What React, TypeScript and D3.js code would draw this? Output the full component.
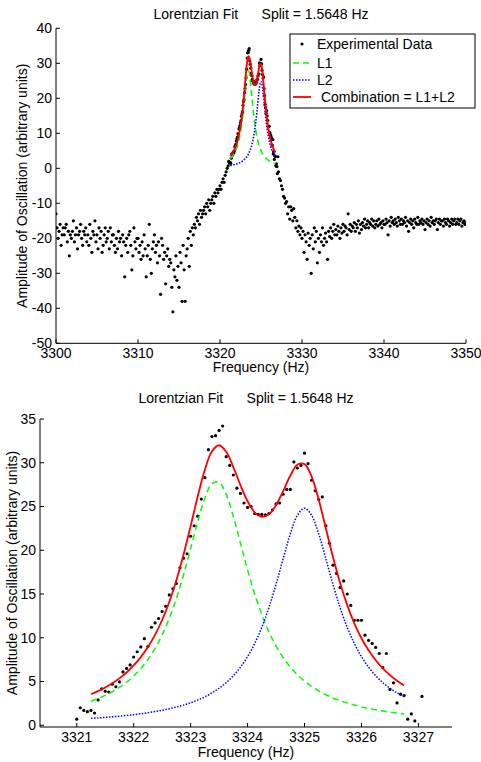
import React from "react";
import * as d3 from "d3";

const centerStart = 3321;
const centerStep = 0.0625;
const centerAmp = [
  0.7, 2.0, 1.7, 1.55, 1.7, 1.4, 2.9, 4.15, 3.9, 3.8, 4.7, 4.4, 4.95, 6.1, 6.5, 6.9,
  7.8, 8.4, 8.95, 9.9, 9.0, 11.2, 11.7, 12.2, 13.0, 13.6, 14.9, 15.6, 16.2, 18.0, 19.1, 19.6,
  21.6, 22.8, 23.9, 25.85, 28.3, 31.5, 33.0, 33.1, 33.7, 34.2, 30.7, 29.7, 28.6, 27.1, 26.5, 25.4,
  24.9, 25.0, 24.2, 24.1, 24.1, 24.05, 24.2, 24.6, 25.3, 25.4, 26.4, 26.95, 26.95, 30.1, 29.4, 29.7,
  31.1, 29.9, 28.0, 26.8, 25.8, 26.1, 22.8, 20.8, 18.3, 17.35, 15.75, 16.5, 15.0, 13.7, 12.0, 12.0,
  12.0, 10.3, 9.7, 9.35, 8.9, 8.2, 6.6, 8.2, 4.1, 4.85, 2.55, 3.55, 3.4, 0.7, 1.3, 0.5,
  -1.5, 3.3,
];

const leftStart = 3300;
const leftStep = 0.125;
const leftAmp = [
  -13, -17, -20, -18, -16, -22, -19, -17,
  -19, -17, -16, -21, -18, -25, -19, -20,
  -18, -15, -21, -19, -17, -23, -19, -18,
  -16, -20, -22, -18, -19, -17, -21, -19,
  -22, -16, -20, -24, -18, -19, -15, -21,
  -19, -23, -17, -20, -18, -24, -22, -19,
  -17, -21, -20, -18, -23, -17, -21, -19,
  -19, -22, -24, -20, -23, -18, -21, -20,
  -25, -19, -21, -31, -22, -20, -24, -19,
  -18, -22, -29, -25, -17, -21, -23, -20,
  -20, -24, -22, -26, -21, -25, -19, -23,
  -31, -25, -22, -16, -26, -30, -23, -21,
  -19, -24, -22, -27, -21, -25, -36, -20,
  -22, -26, -24, -33, -25, -23, -28, -26,
  -27, -34, -41, -29, -31, -25, -32, -28,
  -34, -24, -27, -38, -22, -29, -38, -25,
  -23, -20, -28, -18, -22, -17, -19, -16,
  -17, -14, -15, -13, -16, -12, -14, -13,
  -12, -11, -13, -10, -11, -9, -12, -10,
  -9, -8, -10, -7, -8, -6, -7, -6,
  -5, -6, -4, -3, -4, -2, -1, 0,
];

const rightStart = 3327.125;
const rightStep = 0.125;
const rightAmp = [
  -1, -3, -3.5, -5, -6, -8, -8.5, -10,
  -9.5, -13, -11, -14.5, -11, -12, -15, -11.5,
  -14, -17, -15, -18, -16.5, -19, -17, -20,
  -18, -24, -19, -21, -26, -18.5, -22, -20,
  -30, -19, -23, -17, -21, -18, -27, -20,
  -24, -19, -21, -17, -22, -20, -18.5, -21,
  -26, -18, -19.5, -17, -20, -18, -16, -19,
  -17.5, -19, -16.5, -18, -20, -17, -18.5, -16,
  -18, -16.5, -17, -19, -13, -17.5, -16, -18,
  -16.5, -17, -15.5, -18, -16, -17, -15, -18.5,
  -16, -17.5, -15.5, -16.5, -14.5, -17, -16, -15,
  -17, -15.5, -16, -14.5, -16.5, -15, -17, -16,
  -15, -16.5, -14.5, -16, -15.5, -17, -15, -16,
  -16, -14.5, -15.5, -19, -15, -16.5, -14, -15.5,
  -15, -16, -14.5, -15.5, -16.5, -14, -15, -16,
  -14.5, -16, -15, -15.5, -14, -16.5, -15, -18,
  -15.5, -14.5, -16, -15, -17, -14.5, -15.5, -16,
  -14, -16, -15, -15.5, -14.5, -16, -15, -17.5,
  -15.5, -14.5, -16, -15, -16.5, -14, -15.5, -15,
  -16, -15, -14.5, -17.5, -15.5, -14.5, -16, -15,
  -15, -16.5, -14.5, -15.5, -16, -14.5, -15, -16.5,
  -15.5, -14.5, -16, -15, -14.5, -16, -15.5, -14.5,
  -16, -15, -14.5, -16.5, -15.5, -15, -16, -15.5,
];

// fitted curves, sampled every 0.125 Hz
const fitStart = 3321.25;
const fitStep = 0.125;
const l1Fit = [
  2.75, 3.06, 3.41, 3.83, 4.32, 4.91, 5.62, 6.47, 7.51, 8.77,
  10.32, 12.21, 14.49, 17.18, 20.19, 23.27, 25.94, 27.61, 27.77, 26.38,
  23.85, 20.81, 17.76, 15.0, 12.64, 10.67, 9.06, 7.74, 6.66, 5.78,
  5.04, 4.43, 3.92, 3.49, 3.12, 2.81, 2.54, 2.31, 2.1, 1.92,
  1.77, 1.63, 1.5, 1.39, 1.29,
];
const l2Fit = [
  0.79, 0.84, 0.9, 0.97, 1.04, 1.12, 1.21, 1.31, 1.43, 1.56,
  1.71, 1.88, 2.08, 2.3, 2.57, 2.88, 3.25, 3.7, 4.23, 4.87,
  5.66, 6.64, 7.84, 9.34, 11.19, 13.44, 16.1, 19.02, 21.85, 23.99,
  24.8, 23.99, 21.85, 19.02, 16.1, 13.44, 11.19, 9.34, 7.84, 6.64,
  5.66, 4.87, 4.23, 3.7, 3.25,
];

const titleText = "Lorentzian Fit      Split = 1.5648 Hz";
const xLabel = "Frequency (Hz)";
const yLabel = "Amplitude of Oscillation (arbitrary units)";
const legendLabels = ["Experimental Data", "L1", "L2", " Combination = L1+L2"];

const topXTicks = [3300, 3310, 3320, 3330, 3340, 3350];
const topYTicks = [-50, -40, -30, -20, -10, 0, 10, 20, 30, 40];
const botXTicks = [3321, 3322, 3323, 3324, 3325, 3326, 3327];
const botYTicks = [0, 5, 10, 15, 20, 25, 30, 35];

const FONT = "'Liberation Sans', Arial, Helvetica, sans-serif";
const GREEN = "#00ff00";
const BLUE = "#0000ff";
const RED = "#ff0000";

const toPts = (start: number, step: number, arr: number[]) =>
  arr.map((v, i) => [start + i * step, v] as [number, number]);

const centerPts = toPts(centerStart, centerStep, centerAmp);
const allPts = [
  ...toPts(leftStart, leftStep, leftAmp),
  ...centerPts,
  ...toPts(rightStart, rightStep, rightAmp),
];
const l1Pts = toPts(fitStart, fitStep, l1Fit);
const l2Pts = toPts(fitStart, fitStep, l2Fit);
const comboPts = l1Pts.map(([f, v], i) => [f, v + l2Fit[i]] as [number, number]);

function Panel({ id, x, y, xTicks, yTicks, pts, titleY, tickLabelY, xLabelY, yLabelX, lw }) {
  const [x0, x1] = x.range();
  const [yb, yt] = y.range();
  const line = d3
    .line<[number, number]>()
    .x((d) => x(d[0]))
    .y((d) => y(d[1]))
    .curve(d3.curveCatmullRom);
  const cx = (x0 + x1) / 2;
  return (
    <g fontFamily={FONT} fontSize={14}>
      <defs>
        <clipPath id={id}>
          <rect x={x0} y={yt} width={x1 - x0} height={yb - yt} />
        </clipPath>
      </defs>
      <g clipPath={`url(#${id})`}>
        {pts.map((d, i) => (
          <circle key={i} cx={x(d[0])} cy={y(d[1])} r={1.6} fill="#000" />
        ))}
        <path d={line(l1Pts)} fill="none" stroke={GREEN} strokeWidth={lw} strokeDasharray="6,4" />
        <path d={line(l2Pts)} fill="none" stroke={BLUE} strokeWidth={lw} strokeDasharray="1.5,1.5" />
        <path d={line(comboPts)} fill="none" stroke={RED} strokeWidth={lw + 0.3} />
      </g>
      <line x1={x0} x2={x1} y1={yb} y2={yb} stroke="#000" />
      <line x1={x0} x2={x0} y1={yb} y2={yt} stroke="#000" />
      {xTicks.map((t) => (
        <g key={t}>
          <line x1={x(t)} x2={x(t)} y1={yb} y2={yb - 4} stroke="#000" />
          <text x={x(t)} y={tickLabelY} textAnchor="middle">{t}</text>
        </g>
      ))}
      {yTicks.map((t) => (
        <g key={t}>
          <line x1={x0} x2={x0 + 4} y1={y(t)} y2={y(t)} stroke="#000" />
          <text x={x0 - 4} y={y(t)} dy="0.35em" textAnchor="end">{t}</text>
        </g>
      ))}
      <text x={cx} y={titleY} textAnchor="middle" style={{ whiteSpace: "pre" }}>{titleText}</text>
      <text x={cx} y={xLabelY} textAnchor="middle">{xLabel}</text>
      <text
        transform={`translate(${yLabelX},${(yb + yt) / 2}) rotate(-90)`}
        textAnchor="middle"
        dy="0.35em"
      >
        {yLabel}
      </text>
    </g>
  );
}

export default function App() {
  const topX = d3.scaleLinear().domain([3300, 3350]).range([56, 466]);
  const topY = d3.scaleLinear().domain([-50, 40]).range([343.3, 28.3]);
  const botX = d3.scaleLinear().domain([3320.355, 3327.59]).range([40, 452]);
  const botY = d3.scaleLinear().domain([-0.2, 35]).range([727, 419]);

  const lg = { x: 290, y: 34, w: 185, h: 74 };
  const rows = [44, 63, 80, 97];

  return (
    <svg width={481} height={762} style={{ position: "absolute", left: 0, top: 0, background: "#fff" }}>
      <rect width={481} height={762} fill="#fff" />
      <Panel id="clipTop" x={topX} y={topY} xTicks={topXTicks} yTicks={topYTicks} pts={allPts}
        titleY={19} tickLabelY={358} xLabelY={372} yLabelX={22} lw={1.6} />
      <Panel id="clipBot" x={botX} y={botY} xTicks={botXTicks} yTicks={botYTicks} pts={centerPts}
        titleY={403} tickLabelY={742} xLabelY={757} yLabelX={12} lw={1.5} />
      <g fontFamily={FONT} fontSize={14}>
        <rect x={lg.x} y={lg.y} width={lg.w} height={lg.h} fill="#fff" stroke="#000" />
        <circle cx={302} cy={rows[0]} r={1.6} fill="#000" />
        <line x1={293} x2={311} y1={rows[1]} y2={rows[1]} stroke={GREEN} strokeWidth={1.6} strokeDasharray="6,4" />
        <line x1={293} x2={311} y1={rows[2]} y2={rows[2]} stroke={BLUE} strokeWidth={1.6} strokeDasharray="1.5,1.5" />
        <line x1={293} x2={311} y1={rows[3]} y2={rows[3]} stroke={RED} strokeWidth={1.8} />
        {legendLabels.map((s, i) => (
          <text key={s} x={317} y={rows[i]} dy="0.35em" style={{ whiteSpace: "pre" }}>{s}</text>
        ))}
      </g>
    </svg>
  );
}
